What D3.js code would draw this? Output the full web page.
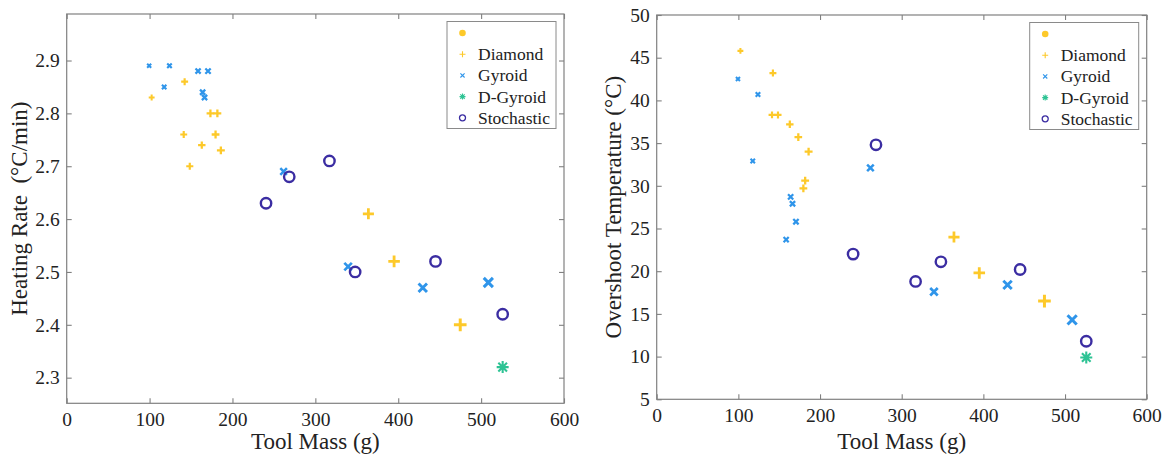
<!DOCTYPE html>
<html>
<head>
<meta charset="utf-8">
<script src="https://cdn.jsdelivr.net/npm/d3@7"></script>
<style>
  body { margin: 0; background: #fff; }
  svg text { font-family: "Liberation Serif", "DejaVu Serif", serif; fill: #222; }
</style>
</head>
<body>
<div id="chart"></div>
<script>
// ticks
const massTicks = [0, 100, 200, 300, 400, 500, 600]
const rateTicks = [2.3, 2.4, 2.5, 2.6, 2.7, 2.8, 2.9]
const tempTicks = [5, 10, 15, 20, 25, 30, 35, 40, 45, 50]

// Diamond lattice
const diamondMass      = [102.5, 142.3, 141.2, 148.5, 163, 173.4, 181.8, 179.6, 186, 364, 395, 474.8]
const diamondRate      = [2.83, 2.86, 2.76, 2.70, 2.74, 2.80, 2.80, 2.76, 2.73, 2.61, 2.52, 2.40]
const diamondOvershoot = [45.8, 43.2, 38.3, 38.3, 37.2, 35.7, 30.6, 29.7, 34.0, 24.0, 19.8, 16.5]

// Gyroid lattice
const gyroidMass      = [99.5, 124, 117.6, 158.5, 170.5, 164, 166.3, 261.7, 339.5, 429.6, 508.7]
const gyroidRate      = [2.89, 2.89, 2.85, 2.88, 2.88, 2.84, 2.83, 2.69, 2.51, 2.47, 2.48]
const gyroidOvershoot = [42.5, 40.7, 32.9, 23.7, 25.8, 28.7, 27.9, 32.1, 17.6, 18.4, 14.3]

// D-Gyroid
const dgyroidMass      = [526]
const dgyroidRate      = [2.32]
const dgyroidOvershoot = [9.9]

// Stochastic
const stochMass      = [240.5, 268.5, 317, 348, 445, 526]
const stochRate      = [2.63, 2.68, 2.71, 2.50, 2.52, 2.42]
const stochOvershoot = [22.0, 34.8, 18.8, 21.1, 20.2, 11.8]

const legendLabels = ["", "Diamond", "Gyroid", "D-Gyroid", "Stochastic"]

// styles
const colors = { dot: "#fdc92a", diamond: "#fdc92a", gyroid: "#2f95ea", dgyroid: "#2ec394", stoch: "#3b2da2" }
const frameColor = "#808080"
const serif = "'Liberation Serif', 'DejaVu Serif', serif"
const W = 1167, H = 463

const svg = d3.select("#chart").append("svg")
    .attr("width", W)
    .attr("height", H)

// marker size grows with tool mass (scatter area)
const sizeScale = d3.scaleSqrt().domain([0, 500]).range([0, 13])

function markerPath(type, s){
    const h = s / 2
    if (type == "plus") return `M${-h},0H${h}M0,${-h}V${h}`
    if (type == "x"){ const d = s * 0.35; return `M${-d},${-d}L${d},${d}M${-d},${d}L${d},${-d}` }
    if (type == "star"){ const d = h * 0.72; return `M${-h},0H${h}M0,${-h}V${h}M${-d},${-d}L${d},${d}M${-d},${d}L${d},${-d}` }
    return ""
}

function drawPanel(p){
    const g = svg.append("g")
    const x = d3.scaleLinear().domain([0, 600]).range([p.left, p.right])
    const y = d3.scaleLinear().domain(p.yDomain).range([p.bottom, p.top])

    // frame
    g.append("rect")
        .attr("x", p.left).attr("y", p.top)
        .attr("width", p.right - p.left).attr("height", p.bottom - p.top)
        .attr("fill", "none").attr("stroke", frameColor).attr("stroke-width", 1.2)

    // axes with inward ticks, mirrored on top/right
    const tk = 5
    g.append("g").attr("transform", `translate(0,${p.bottom})`)
        .call(d3.axisBottom(x).tickValues(massTicks).tickSize(-tk).tickPadding(9).tickFormat(d3.format("d")))
    g.append("g").attr("transform", `translate(0,${p.top})`)
        .call(d3.axisTop(x).tickValues(massTicks).tickSize(-tk).tickFormat(""))
    g.append("g").attr("transform", `translate(${p.left},0)`)
        .call(d3.axisLeft(y).tickValues(p.yTicks).tickSize(-tk).tickPadding(7).tickFormat(p.yFormat))
    g.append("g").attr("transform", `translate(${p.right},0)`)
        .call(d3.axisRight(y).tickValues(p.yTicks).tickSize(-tk).tickFormat(""))
    g.selectAll(".domain").remove()
    g.selectAll(".tick line").attr("stroke", frameColor).attr("stroke-width", 1.1)
    g.selectAll("g[font-family]").attr("font-family", serif).attr("font-size", 19.5)
    g.selectAll(".tick text")
        .style("font-family", serif).style("font-size", "19.5px").attr("fill", "#222")

    // titles
    g.append("text")
        .attr("x", (p.left + p.right) / 2).attr("y", 449)
        .attr("text-anchor", "middle").attr("font-size", 23)
        .text("Tool Mass (g)")
    g.append("text")
        .attr("transform", `translate(${p.titleX},${(p.top + p.bottom) / 2}) rotate(-90)`)
        .attr("text-anchor", "middle").attr("font-size", 23)
        .attr("xml:space", "preserve")
        .text(p.yTitle)

    // series
    const series = [
        { type: "plus", color: colors.diamond, mass: diamondMass, vals: p.diamond },
        { type: "x", color: colors.gyroid, mass: gyroidMass, vals: p.gyroid },
        { type: "star", color: colors.dgyroid, mass: dgyroidMass, vals: p.dgyroid },
    ]
    series.forEach(s => {
        g.append("g").selectAll("path")
            .data(s.mass.map((m, i) => [m, s.vals[i]]))
            .join("path")
            .attr("transform", d => `translate(${x(d[0])},${y(d[1])})`)
            .attr("d", d => markerPath(s.type, s.type == "star" ? 12 : sizeScale(d[0])))
            .attr("fill", "none")
            .attr("stroke", s.color)
            .attr("stroke-width", d => s.type == "star" ? 2.1 : 1.2 + sizeScale(d[0]) * 0.14)
    })
    g.append("g").selectAll("circle")
        .data(stochMass.map((m, i) => [m, p.stoch[i]]))
        .join("circle")
        .attr("cx", d => x(d[0])).attr("cy", d => y(d[1]))
        .attr("r", 5.2)
        .attr("fill", "none").attr("stroke", colors.stoch).attr("stroke-width", 2.4)

    // legend
    const lw = 109, lh = 107
    const lx = p.right - 8 - lw, ly = p.top + 7.5
    const lg = g.append("g").attr("transform", `translate(${lx},${ly})`)
    lg.append("rect").attr("width", lw).attr("height", lh)
        .attr("fill", "#fff").attr("stroke", "#8a8a8a").attr("stroke-width", 1)
    const keys = ["dot", "plus", "x", "star", "circle"]
    const keyColors = [colors.dot, colors.diamond, colors.gyroid, colors.dgyroid, colors.stoch]
    keys.forEach((k, i) => {
        const row = lg.append("g").attr("transform", `translate(15.5,${11.5 + i * 21.2})`)
        if (k == "dot") row.append("path").attr("d", d3.symbol(d3.symbolCircle, 34)()).attr("fill", keyColors[i])
        else if (k == "circle") row.append("circle").attr("r", 3).attr("fill", "none")
            .attr("stroke", keyColors[i]).attr("stroke-width", 1.3)
        else row.append("path").attr("d", markerPath(k, 6)).attr("fill", "none")
            .attr("stroke", keyColors[i]).attr("stroke-width", 1.1)
        lg.append("text")
            .attr("x", 31).attr("y", 11.5 + i * 21.2).attr("dy", "0.34em")
            .attr("font-size", 17.5)
            .text(legendLabels[i])
    })
}

const panels = [
    { left: 66.7, right: 564, top: 14, bottom: 403.3, yDomain: [2.2515, 2.988], yTicks: rateTicks,
      yFormat: d3.format(".1f"), yTitle: "Heating Rate  (°C/min)", titleX: 27,
      diamond: diamondRate, gyroid: gyroidRate, dgyroid: dgyroidRate, stoch: stochRate },
    { left: 656.7, right: 1146.7, top: 15, bottom: 399.3, yDomain: [5, 50], yTicks: tempTicks,
      yFormat: d3.format("d"), yTitle: "Overshoot Temperature (°C)", titleX: 621,
      diamond: diamondOvershoot, gyroid: gyroidOvershoot, dgyroid: dgyroidOvershoot, stoch: stochOvershoot },
]
panels.forEach(drawPanel)
</script>
</body>
</html>
